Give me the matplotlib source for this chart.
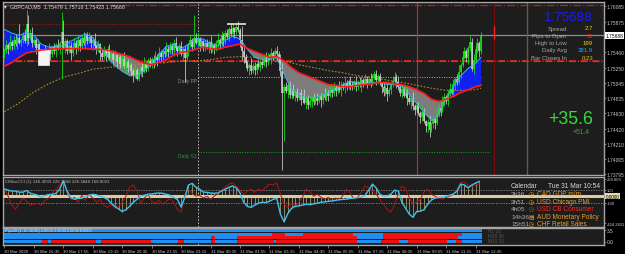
import matplotlib
matplotlib.use("Agg")
import matplotlib.pyplot as plt
from matplotlib.patches import Rectangle

plt.rcParams["font.family"] = ["Liberation Sans", "DejaVu Sans"]

W, H = 625, 255

# ---- data -------------------------------------------------------------------
symbol_title = "GBPCAD,M5  1.75479 1.75718 1.75423 1.75688"
first_open = 1.7544
closes = [
    1.7548, 1.7556, 1.7551, 1.7560, 1.7554, 1.7563, 1.7557, 1.7566, 1.7559, 1.7562,
    1.7570, 1.7561, 1.7585, 1.7566, 1.7572, 1.7558, 1.7563, 1.7552, 1.7557, 1.7546,
    1.7541, 1.7549, 1.7538, 1.7545, 1.7550, 1.7544, 1.7553, 1.7547, 1.7556, 1.7551,
    1.7559, 1.7574, 1.7552, 1.7561, 1.7548, 1.7555, 1.7545, 1.7553, 1.7558, 1.7550,
    1.7562, 1.7555, 1.7566, 1.7559, 1.7569, 1.7561, 1.7567, 1.7558, 1.7563, 1.7554,
    1.7549, 1.7557, 1.7545, 1.7539, 1.7547, 1.7541, 1.7550, 1.7538, 1.7544, 1.7536,
    1.7542, 1.7533, 1.7539, 1.7530, 1.7537, 1.7527, 1.7533, 1.7524, 1.7529, 1.7521,
    1.7515, 1.7522, 1.7510, 1.7519, 1.7526, 1.7520, 1.7530, 1.7525, 1.7534, 1.7529,
    1.7537, 1.7531, 1.7540, 1.7535, 1.7545, 1.7539, 1.7548, 1.7543, 1.7551, 1.7546,
    1.7555, 1.7549, 1.7558, 1.7552, 1.7547, 1.7554, 1.7544, 1.7550, 1.7538, 1.7548,
    1.7556, 1.7562, 1.7553, 1.7566, 1.7559, 1.7564, 1.7555, 1.7561, 1.7552, 1.7558,
    1.7553, 1.7560, 1.7549, 1.7556, 1.7550, 1.7558, 1.7563, 1.7557, 1.7568, 1.7562,
    1.7572, 1.7567, 1.7577, 1.7571, 1.7579, 1.7574, 1.7580, 1.7576, 1.7562, 1.7548,
    1.7540, 1.7531, 1.7524, 1.7529, 1.7520, 1.7527, 1.7522, 1.7530, 1.7526, 1.7533,
    1.7529, 1.7537, 1.7533, 1.7541, 1.7538, 1.7545, 1.7540, 1.7547, 1.7543, 1.7538,
    1.7520, 1.7490, 1.7499, 1.7493, 1.7501, 1.7488, 1.7495, 1.7486, 1.7492, 1.7484,
    1.7490, 1.7481, 1.7487, 1.7477, 1.7483, 1.7474, 1.7480, 1.7485, 1.7478, 1.7484,
    1.7479, 1.7486, 1.7481, 1.7489, 1.7484, 1.7491, 1.7487, 1.7494, 1.7490, 1.7497,
    1.7493, 1.7500, 1.7495, 1.7502, 1.7497, 1.7504, 1.7499, 1.7507, 1.7502, 1.7498,
    1.7505, 1.7499, 1.7506, 1.7501, 1.7508, 1.7503, 1.7509, 1.7504, 1.7510, 1.7505,
    1.7511, 1.7516, 1.7508, 1.7513, 1.7504, 1.7498, 1.7492, 1.7497, 1.7489, 1.7495,
    1.7501, 1.7507, 1.7512, 1.7505, 1.7498, 1.7491, 1.7496, 1.7487, 1.7492, 1.7483,
    1.7478, 1.7484, 1.7473, 1.7468, 1.7474, 1.7463, 1.7458, 1.7465, 1.7452, 1.7445,
    1.7451, 1.7440, 1.7448, 1.7455, 1.7450, 1.7462, 1.7470, 1.7466, 1.7478, 1.7485,
    1.7480, 1.7490, 1.7496, 1.7491, 1.7503, 1.7510, 1.7506, 1.7519, 1.7528, 1.7540,
    1.7547, 1.7538, 1.7552, 1.7560, 1.7523, 1.7535, 1.7550, 1.7558, 1.7548, 1.75688,
]
# wick lengths in pips above / below each candle body
upper_wick = [
    4, 7, 2, 9, 3, 5, 8, 2, 6, 4,   3, 8, 5, 2, 6, 9, 3, 4, 7, 2,
    5, 2, 7, 3, 9, 4, 2, 6, 3, 8,   2, 5, 9, 4, 3, 7, 5, 2, 8, 4,
    6, 3, 4, 8, 2, 5, 7, 3, 4, 9,   3, 6, 2, 5, 8, 3, 4, 7, 2, 5,
    7, 2, 5, 3, 6, 9, 2, 4, 5, 3,   4, 8, 3, 6, 2, 5, 9, 3, 4, 6,
    2, 5, 7, 3, 8, 4, 2, 6, 9, 3,   5, 3, 6, 9, 2, 4, 7, 3, 5, 8,
    3, 7, 4, 2, 6, 8, 3, 5, 2, 6,   6, 2, 8, 4, 3, 5, 9, 2, 7, 4,
    4, 6, 3, 7, 5, 2, 4, 8, 3, 5,   8, 3, 5, 2, 9, 4, 6, 3, 7, 2,
    3, 6, 9, 4, 2, 7, 3, 5, 8, 4,   5, 12, 4, 7, 3, 6, 2, 8, 4, 5,
    2, 6, 4, 9, 3, 5, 7, 2, 6, 3,   7, 3, 5, 2, 8, 4, 3, 6, 2, 9,
    4, 2, 7, 5, 3, 9, 4, 2, 6, 5,   3, 8, 2, 6, 4, 3, 7, 5, 2, 8,
    6, 4, 9, 3, 5, 2, 8, 4, 6, 3,   2, 7, 4, 5, 9, 3, 6, 2, 8, 4,
    5, 3, 8, 2, 6, 4, 3, 9, 5, 2,   4, 9, 3, 6, 2, 7, 5, 3, 8, 6,
    3, 5, 8, 4, 7, 2, 6, 9, 4, 7,   6, 4, 3, 8, 5, 9, 4, 7, 3, 2,
]
lower_wick = [
    6, 3, 8, 2, 5, 4, 3, 7, 2, 5,   4, 2, 6, 9, 3, 5, 2, 8, 4, 7,
    3, 9, 4, 6, 2, 8, 5, 3, 7, 2,   8, 4, 2, 7, 5, 3, 9, 4, 2, 6,
    2, 7, 5, 3, 8, 4, 2, 6, 9, 3,   5, 3, 9, 4, 2, 7, 5, 3, 6, 8,
    3, 8, 2, 6, 4, 3, 9, 5, 2, 7,   9, 4, 7, 3, 5, 8, 2, 6, 4, 3,
    4, 6, 3, 8, 2, 5, 7, 3, 2, 6,   3, 5, 8, 2, 6, 4, 3, 9, 5, 2,
    7, 3, 5, 4, 2, 6, 8, 3, 5, 4,   2, 8, 4, 3, 7, 2, 5, 6, 3, 8,
    5, 3, 6, 2, 4, 8, 3, 2, 9, 12,  8, 6, 3, 9, 4, 2, 7, 5, 3, 6,
    4, 2, 7, 5, 3, 8, 4, 2, 6, 9,   6, 5, 8, 3, 9, 4, 6, 3, 7, 5,
    3, 7, 4, 2, 8, 5, 3, 9, 4, 2,   5, 2, 9, 6, 3, 4, 8, 2, 5, 3,
    7, 4, 3, 8, 2, 6, 5, 3, 7, 4,   2, 6, 5, 3, 9, 4, 2, 7, 3, 6,
    4, 3, 7, 5, 2, 8, 6, 4, 9, 3,   6, 2, 4, 8, 3, 5, 7, 2, 4, 9,
    3, 9, 5, 7, 4, 2, 8, 6, 3, 7,   8, 4, 2, 5, 9, 3, 4, 7, 2, 5,
    5, 7, 3, 2, 6, 9, 4, 3, 8, 2,   3, 5, 8, 4, 2, 6, 3, 5, 9, 4,
]
# bars with long wicks: bar -> (high, low)
spikes = {
    8: (1.7585, None), 12: (1.7604, None), 13: (1.7597, None),
    31: (1.7601, 1.7509), 32: (1.7590, None), 72: (None, 1.7508),
    98: (None, 1.7505), 103: (1.7597, None), 126: (1.7584, None),
    129: (1.7582, 1.7536), 151: (None, 1.7385), 152: (None, 1.7425),
    202: (1.7522, None), 212: (1.7519, None), 231: (None, 1.7430),
    259: (1.7573, None),
}

ma_bars = list(range(0, 257, 4)) + [259]
red_ma = [
    1.7527, 1.7532, 1.7539, 1.7545, 1.7547, 1.7549, 1.7550, 1.7551,
    1.7551, 1.7551, 1.7551, 1.7551, 1.7550, 1.7550, 1.7549, 1.7546,
    1.7543, 1.7540, 1.7535, 1.7531, 1.7529, 1.7532, 1.7536, 1.7542,
    1.7546, 1.7547, 1.7550, 1.7553, 1.7551, 1.7550, 1.7553, 1.7555,
    1.7557, 1.7551, 1.7547, 1.7543, 1.7539, 1.7540, 1.7534, 1.7525,
    1.7518, 1.7514, 1.7510, 1.7506, 1.7502, 1.7501, 1.7499, 1.7499,
    1.7501, 1.7502, 1.7503, 1.7505, 1.7505, 1.7503, 1.7502, 1.7499,
    1.7495, 1.7490, 1.7482, 1.7479, 1.7482, 1.7486, 1.7491, 1.7495,
    1.7499, 1.7501,
]
cyan_ma = [
    1.7577, 1.7572, 1.7569, 1.7573, 1.7569, 1.7557, 1.7553, 1.7554,
    1.7555, 1.7561, 1.7566, 1.7571, 1.7566, 1.7554, 1.7540, 1.7528,
    1.7520, 1.7514, 1.7514, 1.7520, 1.7531, 1.7543, 1.7554, 1.7557,
    1.7551, 1.7557, 1.7565, 1.7564, 1.7557, 1.7555, 1.7562, 1.7568,
    1.7564, 1.7550, 1.7539, 1.7536, 1.7538, 1.7538, 1.7516, 1.7495,
    1.7488, 1.7484, 1.7484, 1.7487, 1.7490, 1.7495, 1.7502, 1.7506,
    1.7505, 1.7503, 1.7505, 1.7505, 1.7502, 1.7502, 1.7499, 1.7488,
    1.7476, 1.7464, 1.7453, 1.7460, 1.7482, 1.7499, 1.7514, 1.7524,
    1.7531, 1.7539,
]
slow_bars = list(range(0, 257, 8)) + [259]
slow_ma = [
    1.7465, 1.7477, 1.7492, 1.7503, 1.7512, 1.7517, 1.7523, 1.7525,
    1.7528, 1.7529, 1.7531, 1.7532, 1.7534, 1.7534, 1.7536, 1.7539,
    1.7540, 1.7539, 1.7536, 1.7534, 1.7529, 1.7525, 1.7521, 1.7518,
    1.7514, 1.7512, 1.7508, 1.7505, 1.7501, 1.7497, 1.7494, 1.7494,
    1.7495, 1.7497,
]

# horizontal levels
level_top = 1.7610
level_prev_high = 1.7584
level_red = 1.7536
level_green = 1.7534
daily_pp = 1.7512
daily_s1 = 1.7410
last_price = 1.75688
day_high = 1.7584
day_high_bars = (121, 131)
white_box = (18, 24, 1.7529, 1.7550)
day_start_bar = 105
red_vline_bar = 224
now_bar = 266
now_range = (1.7564, 1.7582)
brown_vline_bar = 284

price_ticks = [1.76085, 1.75875, 1.75460, 1.75250, 1.75045, 1.74835,
               1.74630, 1.74420, 1.74210, 1.74005, 1.73795]

cci_bars = list(range(0, 260, 2))
cci_fast = [
    111, 95, 79, 79, 63, 63, 90, 47, 32, 16,
    -20, 10, 25, 30, 45, 110, 240, 80, -20, -50,
    -35, -30, 0, 15, 30, 20, 0, -20, -50, -110,
    -160, -200, -240, -210, -160, -95, -50, 0, 15, 30,
    35, 45, 50, 45, 30, 15, -20, -50, -170, -20,
    175, 200, 140, 110, 65, 60, 50, 45, 50, 80,
    110, 140, 160, 130, 50, -95, -160, -175, -140, -110,
    -95, -100, -80, -50, -35, -285, -400, -270, -190, -160,
    -150, -140, -125, -130, -120, -110, -95, -90, -80, -75,
    -65, -55, -50, -45, -35, -30, -20, -15, 15, 95,
    190, 130, 30, 0, 5, 30, 95, 80, -95, -190,
    -280, -330, -240, -235, -210, -125, -60, -30, -20, -15,
    0, 15, 35, 80, 190, 175, 130, 175, 205, 230,
]
cci_slow = [
    110, 0, -140, -205, -110, -30, -80, -140, -125, -110,
    -140, -65, -30, 45, 110, 175, 220, 60, -50, -20,
    -95, 15, -65, 30, -30, -95, -50, -140, -175, -125,
    -190, -160, -95, 0, 140, 175, 80, -110, -30, 30,
    -80, -110, -65, -125, -80, -30, -95, -205, -250, 15,
    110, 45, 0, 15, -30, 0, -50, 0, 45, 95,
    140, 190, 205, 160, 95, 30, 80, 110, 60, 110,
    80, 140, 190, 175, 205, 30, -125, -175, -110, -160,
    -95, -15, 110, 65, 0, 30, -15, -50, -20, -65,
    -30, -60, 15, 110, 45, -50, -15, 65, 160, 130,
    80, 30, -50, -125, -205, -250, -125, 30, 160, 110,
    -20, -125, -95, -50, 65, 110, 30, 0, -30, -50,
    -20, 0, 30, 110, 220, 220, 175, 140, 175, 190,
]
cci_title = "CMIsoCCI (1) 146.4093 226.3848 226.3848 168.8023"
cci_tick_vals = [268.809, 100, -100, -424.2831]
cci_tick_text = ["268.809", "100", "-100", "-424.2831"]

pips_title = "Pips20 (1,15,30,60) 2.0000 2.0000 1.0000 0.0000"
n_bars = len(closes)
# red stretches per row of the lower strip (blue elsewhere)
row2_red = [(146, 152), (163, 189), (206, 248)]
row3_red = [(113, 114), (127, 191), (206, 246)]
row4_red = [(21, 23), (26, 49), (53, 79), (95, 97), (113, 114), (127, 146),
            (148, 191), (205, 214), (220, 240), (246, 248)]
row_tags = ["H1 30", "M30 30", "M15 30"]

time_labels = ["30 Mar 2020", "30 Mar 16:35", "30 Mar 17:55", "30 Mar 19:15",
               "30 Mar 20:35", "30 Mar 21:55", "30 Mar 23:15", "31 Mar 00:35",
               "31 Mar 01:55", "31 Mar 03:15", "31 Mar 04:35", "31 Mar 05:55",
               "31 Mar 07:15", "31 Mar 08:35", "31 Mar 09:55", "31 Mar 11:15",
               "31 Mar 12:35"]
time_label_bars = [16 * i for i in range(len(time_labels))]

info_names = ["Spread", "Pips to Open", "High to Low", "Daily Avg", "Bar Closes In"]
info_values = ["2.7", "12", "199", "381.9", "0:23"]
info_colors = ["#f0d000", "#ff2020", "#f0d000", "#28a8ff", "#f0c000"]
pips_today = "+35.6"
pips_week = "+51.4"

cal_header = ("Calendar", "Tue 31 Mar 10:54")
cal_times = ["3h36", "3h51", "4h05", "14h36", "15h51"]
cal_icons = ["\u25f7", "\u25f7", "\u25f7", "\u25a4", "\u25f7"]
cal_events = ["CAD GDP m/m", "USD Chicago PMI", "USD CB Consumer",
              "AUD Monetary Policy", "CHF Retail Sales"]
cal_colors = ["#e8a030", "#e8a030", "#ff2a1a", "#e8a030", "#e8a030"]

assert len(closes) == 260 == len(upper_wick) == len(lower_wick)
assert len(red_ma) == len(ma_bars) == len(cyan_ma)
assert len(slow_ma) == len(slow_bars) and len(cci_fast) == len(cci_bars) == len(cci_slow)

# ---- figure ---------------------------------------------------------------
BG = "#1d1d1d"
FRAME = "#a6a6a6"
TXT = "#c8c8c8"
PIP = 0.0001


def fbox(x0, y0, x1, y1):
    return [x0 / W, 1 - y1 / H, (x1 - x0) / W, (y1 - y0) / H]


def ft(x, y, s, **kw):
    fig.text(x / W, 1 - y / H, s, **kw)


fig = plt.figure(figsize=(W / 100, H / 100), dpi=100, facecolor="black")
ax = fig.add_axes(fbox(3, 3, 604, 176))
ax2 = fig.add_axes(fbox(3, 178, 604, 227.5))
ax3 = fig.add_axes(fbox(3, 229, 604, 246))

xlim = (-0.8, -0.8 + 601 / 1.84)
for a in (ax, ax2, ax3):
    a.set_facecolor(BG)
    a.set_xlim(*xlim)
    for sp in a.spines.values():
        sp.set_color(FRAME)
        sp.set_linewidth(1.0)
    a.yaxis.tick_right()
    a.tick_params(axis="y", length=1.5, width=0.5, colors=FRAME, labelsize=3.5,
                  labelcolor=TXT, pad=0.6)
    a.tick_params(axis="x", bottom=False, labelbottom=False)
    a.axvline(day_start_bar, color="#cfcfcf", lw=0.6, ls=(0, (2, 2)), zorder=1)

# ---- main price panel -----------------------------------------------------
ax.set_ylim(1.73788, 1.76144)
ax.set_yticks(price_ticks)
ax.set_yticklabels([f"{p:.5f}" for p in price_ticks])

ax.axhline(level_top, color="#c81818", lw=0.9, ls="-.", zorder=1)
ax.hlines(level_prev_high, xlim[0], day_start_bar, color="#a01818", lw=0.8,
          ls=(0, (1, 1.5)), zorder=1)
ax.axhline(level_red, color="#c81818", lw=0.8, ls="-.", zorder=1)
ax.axhline(level_green, color="#1e9a1e", lw=0.8, ls="-.", zorder=1)
ax.hlines(daily_pp, day_start_bar, n_bars - 1, color="#c8c800", lw=0.7,
          ls=(0, (1, 1.5)), zorder=1)
ax.hlines(daily_s1, day_start_bar, n_bars + 4, color="#1ea01e", lw=0.7,
          ls=(0, (1, 1.5)), zorder=1)
ax.axhline(last_price, color="#8e8e8e", lw=0.9, zorder=1)
ax.text(day_start_bar - 0.5, daily_pp - 0.0001, "Daily PP", color="#8a8a8a",
        fontsize=3.6, ha="right", va="top")
ax.text(day_start_bar - 0.5, daily_s1 - 0.0001, "Daily S1", color="#1ea01e",
        fontsize=3.6, ha="right", va="top")

ax.axvline(red_vline_bar, color="#c03414", lw=0.8, zorder=1)
ax.axvline(now_bar, color="#7a0c0c", lw=0.7, zorder=1)
ax.vlines(now_bar, *now_range, color="#ff2020", lw=1.0, zorder=2)
ax.axvline(brown_vline_bar, color="#6e5a28", lw=1.0, zorder=1)

ax.fill_between(ma_bars, red_ma, cyan_ma,
                where=[c >= r for c, r in zip(cyan_ma, red_ma)],
                interpolate=True, color="#1020f0", lw=0, zorder=2)
ax.fill_between(ma_bars, red_ma, cyan_ma,
                where=[c < r for c, r in zip(cyan_ma, red_ma)],
                interpolate=True, color="#7c7c7c", lw=0, zorder=2)
ax.plot(slow_bars, slow_ma, color="#b08a28", lw=0.8, ls=(0, (1.5, 1.5)), zorder=2)

opens = [first_open] + closes[:-1]
body_lo = [min(o, c) for o, c in zip(opens, closes)]
body_hi = [max(o, c) for o, c in zip(opens, closes)]
highs = [h + u * PIP for h, u in zip(body_hi, upper_wick)]
lows = [lo - d * PIP for lo, d in zip(body_lo, lower_wick)]
for b, (hi, lo) in spikes.items():
    if hi is not None:
        highs[b] = hi
    if lo is not None:
        lows[b] = lo
bars = list(range(n_bars))
cols = ["#12e812" if c >= o else "#cfcfcf" for o, c in zip(opens, closes)]
ax.vlines(bars, lows, highs, colors=cols, lw=0.55, zorder=3)
ax.vlines(bars, body_lo, body_hi, colors=cols, lw=1.15, zorder=3)
bx0, bx1, by0, by1 = white_box
ax.add_patch(Rectangle((bx0, by0), bx1 - bx0, by1 - by0, facecolor="#f4f4f4",
                       edgecolor="#f4f4f4", lw=0.5, zorder=4))
ax.hlines(day_high, *day_high_bars, color="#f2e6c8", lw=1.2, zorder=4)

ax.plot(ma_bars, cyan_ma, color="#3cb4e6", lw=0.7, zorder=4)
ax.plot(ma_bars, red_ma, color="#ff1a1a", lw=1.2, zorder=5)

ax.text(1.003, last_price, f"{last_price:.5f}", transform=ax.get_yaxis_transform(),
        fontsize=3.5, color="black", va="center", ha="left",
        bbox=dict(boxstyle="square,pad=0.15", fc="white", ec="none"), zorder=6,
        clip_on=False)

ft(4, 6.5, "\u25be", color="#e0e0e0", fontsize=4, va="center")
ft(10, 6.5, symbol_title, color="#e0e0e0", fontsize=3.8, va="center")

ft(593, 18, f"{last_price:.5f}", color="#1a1aff", fontsize=9.6, ha="right", va="center")
for i, (nm, val, c) in enumerate(zip(info_names, info_values, info_colors)):
    y = 29 + 7.3 * i
    ft(567, y, nm, color="#a8a8a8", fontsize=4.3, ha="right", va="center")
    ft(593, y, val, color=c, fontsize=4.3, ha="right", va="center")
ft(593, 120, pips_today, color="#3ad83a", fontsize=12.8, ha="right", va="center")
ft(590, 133, pips_week, color="#38a838", fontsize=4.8, ha="right", va="center")

# ---- CCI panel ------------------------------------------------------------
ax2.set_ylim(-474, 300)
ax2.set_yticks(cci_tick_vals)
ax2.set_yticklabels(cci_tick_text)
ax2.tick_params(axis="y", labelsize=3.0)
ax2.vlines(cci_bars, 0, cci_fast, color="#a69868", lw=0.6, zorder=2)
ax2.axhline(0, color="#dacba2", lw=2.2, zorder=3)
for lvl in (100, -100):
    ax2.axhline(lvl, color="#8a8a8a", lw=0.6, ls=(0, (1.5, 1.5)), zorder=1)
ax2.plot(cci_bars, cci_slow, color="#b01414", lw=0.7, zorder=4)
ax2.plot(cci_bars, cci_fast, color="#38c4f4", lw=1.0, zorder=5)
ax2.text(1.003, 0, "0.0000", transform=ax2.get_yaxis_transform(), fontsize=3.3,
         color="black", va="center", ha="left", clip_on=False,
         bbox=dict(boxstyle="square,pad=0.15", fc="#e8d9a8", ec="none"), zorder=6)
ft(5, 181.5, cci_title, color="#b8b8b8", fontsize=3.2, va="center")

ft(511, 187, cal_header[0], color="#d8d8d8", fontsize=4.8, va="center")
ft(600, 187, cal_header[1], color="#d8d8d8", fontsize=4.8, va="center", ha="right")
for i, (t, ic, ev, c) in enumerate(zip(cal_times, cal_icons, cal_events, cal_colors)):
    y = 195 + 7.4 * i
    ft(511, y, t, color="#b0b0b0", fontsize=4.6, va="center")
    ft(531, y, ic, color=c, fontsize=4.2, va="center", ha="center")
    ft(537, y, ev, color=c, fontsize=4.7, va="center")

# ---- lower strip ----------------------------------------------------------
ax3.set_ylim(0, 17)
ax3.set_yticks([15, 3.5])
ax3.set_yticklabels(["3.5", "0.0"])
rows = [(12.8, 3.2, []), (9.2, 3.0, row2_red), (5.6, 3.0, row3_red),
        (2.0, 3.0, row4_red)]
for y0, h, reds in rows:
    ax3.broken_barh([(-0.5, n_bars)], (y0, h), facecolors="#1e8ef0", zorder=2)
    ax3.broken_barh([(s - 0.5, e - s + 1) for s, e in reds], (y0, h),
                    facecolors="#f01010", zorder=3)
for tag, yy in zip(row_tags, [14.3, 9.3, 4.2]):
    ax3.text(263, yy, tag, color="#5a5a5a", fontsize=3.4, va="center", zorder=4)
ft(5, 231.5, pips_title, color="#e8e8e8", fontsize=2.9, va="center", zorder=5)

ax3.tick_params(axis="x", bottom=True, labelbottom=True, length=2, width=0.5,
                colors=FRAME, labelsize=3.15, labelcolor=TXT, pad=0.8)
ax3.set_xticks(time_label_bars)
ax3.set_xticklabels(time_labels)
for lbl in ax3.get_xticklabels():
    lbl.set_ha("left")

fig.savefig("out.png", dpi=100, facecolor="black")
